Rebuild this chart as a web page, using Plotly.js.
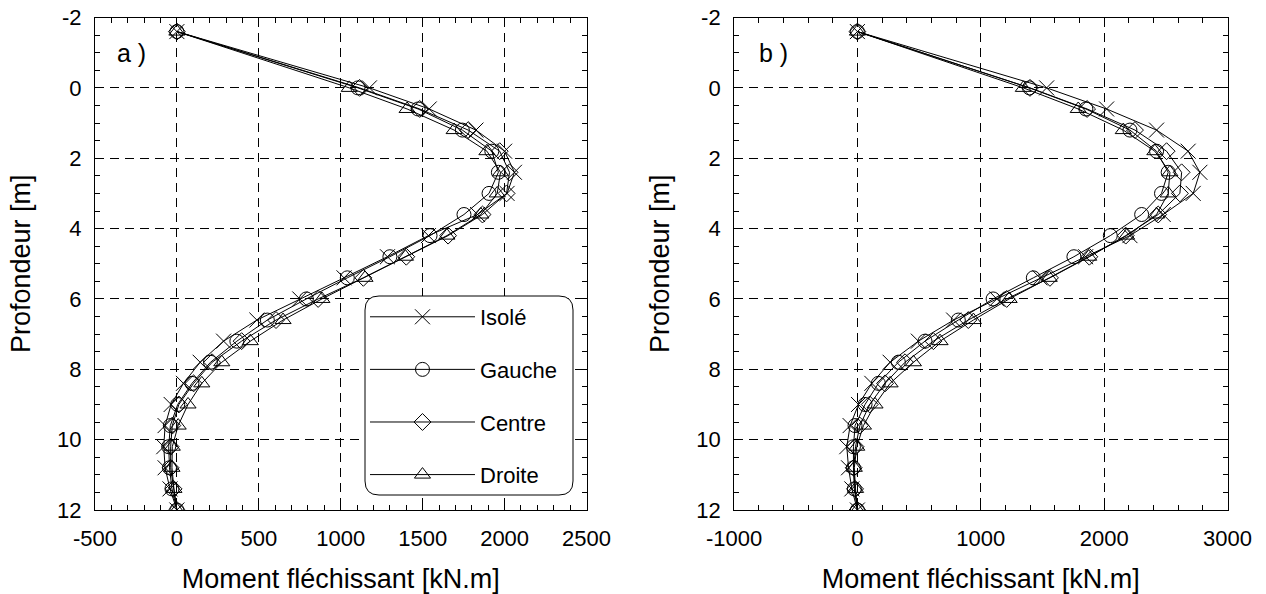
<!DOCTYPE html>
<html>
<head>
<meta charset="utf-8">
<script src="https://cdn.plot.ly/plotly-3.0.1.min.js"></script>
<style>html,body{margin:0;padding:0;background:#fff;}#chart{width:1266px;height:594px;}</style>
</head>
<body>
<div id="chart"></div>
<script>
// Depth (m)
const depth = [-1.6, 0, 0.6, 1.2, 1.8, 2.4, 3.0, 3.6, 4.2, 4.8, 5.4, 6.0, 6.6, 7.2, 7.8, 8.4, 9.0, 9.6, 10.2, 10.8, 11.4, 12.0];
const seriesNames = ["Isolé", "Gauche", "Centre", "Droite"];

// Panel a) bending moment (kN.m)
const aIsole  = [0, 1175, 1540, 1825, 2000, 2060, 2015, 1835, 1535, 1285, 1020, 750, 488, 285, 142, 40, -35, -72, -80, -72, -42, 0];
const aGauche = [0, 1105, 1472, 1742, 1922, 1962, 1905, 1752, 1545, 1300, 1040, 790, 552, 366, 205, 92, 5, -40, -50, -45, -30, 0];
const aCentre = [0, 1115, 1482, 1778, 1970, 2030, 2012, 1865, 1655, 1400, 1138, 862, 605, 395, 215, 102, 12, -28, -38, -38, -20, 0];
const aDroite = [0, 1052, 1405, 1692, 1892, 1975, 1955, 1855, 1648, 1395, 1148, 885, 648, 448, 274, 152, 68, 8, -28, -30, -18, 0];

// Panel b) bending moment (kN.m)
const bIsole  = [0, 1534, 2020, 2425, 2681, 2776, 2722, 2479, 2209, 1850, 1480, 1130, 780, 494, 265, 117, 9, -59, -86, -72, -45, 0];
const bGauche = [0, 1395, 1852, 2209, 2425, 2519, 2465, 2304, 2050, 1755, 1426, 1100, 818, 548, 332, 170, 62, -19, -32, -32, -25, 0];
const bCentre = [0, 1399, 1862, 2250, 2506, 2628, 2614, 2438, 2175, 1880, 1561, 1210, 899, 616, 386, 224, 100, 20, -15, -30, -19, 0];
const bDroite = [0, 1345, 1790, 2155, 2411, 2533, 2519, 2425, 2182, 1875, 1555, 1230, 940, 670, 454, 265, 143, 49, -5, -25, -15, 0];

// Tick labels
const aTickVals = [-500, 0, 500, 1000, 1500, 2000, 2500];
const aTickText = ["-500", "0", "500", "1000", "1500", "2000", "2500"];
const bTickVals = [-1000, 0, 1000, 2000, 3000];
const bTickText = ["-1000", "0", "1000", "2000", "3000"];
const yTickVals = [-2, 0, 2, 4, 6, 8, 10, 12];
const yTickText = ["-2", "0", "2", "4", "6", "8", "10", "12"];

const xTitle = "Moment fléchissant [kN.m]";
const yTitle = "Profondeur [m]";
const panelLabels = ["a )", "b )"];

const symbols = ["x-thin-open", "circle-open", "diamond-open", "triangle-up-open"];
const sizes = [15, 14, 13, 14];

const aData = [aIsole, aGauche, aCentre, aDroite];
const bData = [bIsole, bGauche, bCentre, bDroite];

const traces = [];
aData.forEach((vals, i) => {
  traces.push({
    x: vals, y: depth, type: "scatter", mode: "lines+markers",
    name: seriesNames[i], legendgroup: "g" + i,
    xaxis: "x", yaxis: "y",
    line: {color: "#000", width: 1},
    marker: {symbol: symbols[i], size: sizes[i], color: "#000", line: {color: "#000", width: 1}}
  });
});
bData.forEach((vals, i) => {
  traces.push({
    x: vals, y: depth, type: "scatter", mode: "lines+markers",
    name: seriesNames[i], legendgroup: "g" + i, showlegend: false,
    xaxis: "x2", yaxis: "y2",
    line: {color: "#000", width: 1},
    marker: {symbol: symbols[i], size: sizes[i], color: "#000", line: {color: "#000", width: 1}}
  });
});

const FONT = "Liberation Sans, Arial, Helvetica, sans-serif";

function xAxis(domain, range, tickvals, ticktext, minorDtick, anchor) {
  return {
    domain: domain, range: range, tickmode: "array", tickvals: tickvals, ticktext: ticktext, anchor: anchor,
    showline: true, linecolor: "#000", linewidth: 1, mirror: "ticks",
    ticks: "inside", ticklen: 6, tickcolor: "#000",
    showgrid: true, gridcolor: "#000", gridwidth: 1, griddash: "9px,6px",
    zeroline: false,
    minor: {tickmode: "linear", tick0: 0, dtick: minorDtick, ticks: "inside", ticklen: 5, tickcolor: "#000", showgrid: false},
    tickfont: {family: FONT, size: 22, color: "#000"},
    ticklabelstandoff: 9,
    title: {text: xTitle, font: {family: FONT, size: 27, color: "#000"}, standoff: 18}
  };
}
function yAxis(domain, anchor) {
  return {
    domain: domain, range: [12, -2], tickmode: "array", tickvals: yTickVals, ticktext: yTickText, anchor: anchor,
    showline: true, linecolor: "#000", linewidth: 1, mirror: "ticks",
    ticks: "inside", ticklen: 6, tickcolor: "#000",
    showgrid: true, gridcolor: "#000", gridwidth: 1, griddash: "9px,6px",
    zeroline: false,
    minor: {tickmode: "linear", tick0: 0, dtick: 0.5, ticks: "inside", ticklen: 5, tickcolor: "#000", showgrid: false},
    tickfont: {family: FONT, size: 22, color: "#000"},
    ticklabelstandoff: 8,
    title: {text: yTitle, font: {family: FONT, size: 27, color: "#000"}, standoff: 18}
  };
}

// Rounded legend frame (paper coordinates)
const W = 1266, H = 594;
const lx0 = 365 / W, lx1 = 573 / W, ly0 = 1 - 495 / H, ly1 = 1 - 296 / H;
const rx = 14 / W, ry = 14 / H;
const framePath = `M ${lx0 + rx},${ly1} L ${lx1 - rx},${ly1} Q ${lx1},${ly1} ${lx1},${ly1 - ry} ` +
  `L ${lx1},${ly0 + ry} Q ${lx1},${ly0} ${lx1 - rx},${ly0} L ${lx0 + rx},${ly0} Q ${lx0},${ly0} ${lx0},${ly0 + ry} ` +
  `L ${lx0},${ly1 - ry} Q ${lx0},${ly1} ${lx0 + rx},${ly1} Z`;

const yDom = [0.1414, 0.9705];
const layout = {
  width: W, height: H,
  margin: {l: 0, r: 0, t: 0, b: 0},
  paper_bgcolor: "#fff", plot_bgcolor: "#fff",
  font: {family: FONT, color: "#000"},
  xaxis: xAxis([0.0750, 0.4633], [-500, 2500], aTickVals, aTickText, 100, "y"),
  yaxis: yAxis(yDom, "x"),
  xaxis2: xAxis([0.5798, 0.9696], [-1000, 3000], bTickVals, bTickText, 200, "y2"),
  yaxis2: yAxis(yDom, "x2"),
  showlegend: true,
  legend: {
    x: 0.2883, y: 0.5017, xanchor: "left", yanchor: "top",
    bgcolor: "rgba(0,0,0,0)", borderwidth: 0,
    font: {family: FONT, size: 22, color: "#000"},
    tracegroupgap: 21, itemwidth: 105, itemsizing: "trace"
  },
  shapes: [
    {type: "path", xref: "paper", yref: "paper", path: framePath, fillcolor: "#fff", line: {color: "#000", width: 1}, layer: "above"}
  ],
  annotations: [
    {text: panelLabels[0], xref: "paper", yref: "paper", x: 0.0905, y: 0.911, xanchor: "left", yanchor: "middle", showarrow: false, font: {family: FONT, size: 25, color: "#000"}},
    {text: panelLabels[1], xref: "paper", yref: "paper", x: 0.598, y: 0.911, xanchor: "left", yanchor: "middle", showarrow: false, font: {family: FONT, size: 25, color: "#000"}}
  ]
};

Plotly.newPlot("chart", traces, layout, {displayModeBar: false, staticPlot: true});
</script>
</body>
</html>
